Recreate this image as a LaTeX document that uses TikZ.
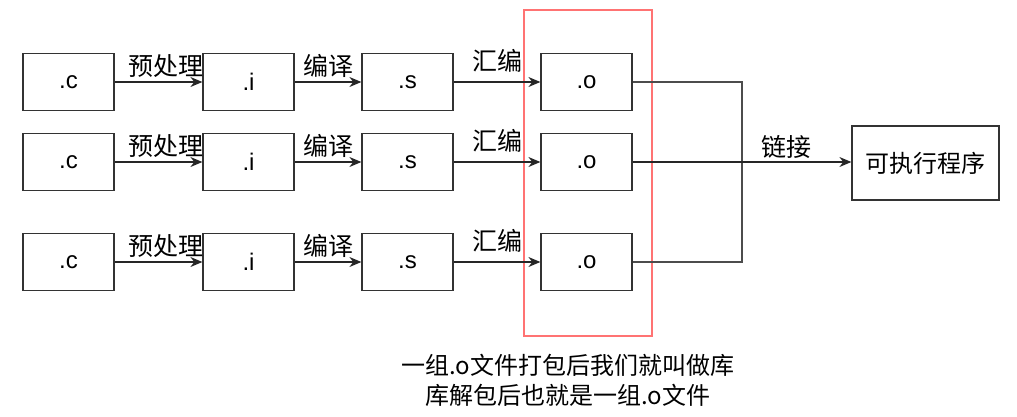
\documentclass[tikz,border=0pt]{standalone}
\usepackage{fontspec}
\setmainfont{Liberation Sans}
\newfontfamily\cjk{Noto Sans CJK SC}
\usepackage{xcolor}
\usetikzlibrary{arrows.meta}

\begin{document}
\begin{tikzpicture}[x=1pt, y=-1pt,
        box/.style={draw=black!80, line width=1.2pt, rectangle, inner sep=0pt,
            minimum width=91pt, minimum height=57pt, font=\fontsize{24}{28}\selectfont},
        lbl/.style={inner sep=0pt, font=\cjk\fontsize{25}{28}\selectfont},
        arr/.style={-{Stealth[length=12pt, width=10pt]}, line width=1.2pt, draw=black!85},
        link/.style={line width=1.2pt, draw=black!70}]
        \useasboundingbox (0,0) rectangle (1017,416);

        % Group of .o files
        \node[draw=red!55, line width=1.2pt, minimum width=128pt, minimum height=326pt, inner sep=0pt] (grp) at (588, 173) {};

        % Sources
        \node[box] (c1) at (68.5, 82) {.c};
        \node[box] (c2) at (68.5, 162) {.c};
        \node[box] (c3) at (68.5, 262) {.c};

        % Preprocessed
        \node[box] (i1) at (248.5, 82) {.i};
        \node[box] (i2) at (248.5, 162) {.i};
        \node[box] (i3) at (248.5, 262) {.i};

        % Assembly
        \node[box] (s1) at (407.5, 82) {.s};
        \node[box] (s2) at (407.5, 162) {.s};
        \node[box] (s3) at (407.5, 262) {.s};

        % Objects
        \node[box] (o1) at (586.5, 82) {.o};
        \node[box] (o2) at (586.5, 162) {.o};
        \node[box] (o3) at (586.5, 262) {.o};

        % Executable
        \node[box, minimum width=147pt, minimum height=74pt, font=\cjk\fontsize{24}{28}\selectfont] (exe) at (925.5, 163) {可执行程序};

        % Step labels
        \node[lbl] (pre1) at (166, 66) {预处理};
        \node[lbl] (pre2) at (166, 146) {预处理};
        \node[lbl] (pre3) at (166, 246) {预处理};
        \node[lbl] (cmp1) at (328, 66) {编译};
        \node[lbl] (cmp2) at (328, 146) {编译};
        \node[lbl] (cmp3) at (328, 246) {编译};
        \node[lbl] (asm1) at (497, 61) {汇编};
        \node[lbl] (asm2) at (497, 141) {汇编};
        \node[lbl] (asm3) at (497, 241) {汇编};
        \node[lbl] (lnk) at (786, 147) {链接};

        % Connections
        \draw[arr] (c1) -- (i1);
        \draw[arr] (c2) -- (i2);
        \draw[arr] (c3) -- (i3);
        \draw[arr] (i1) -- (s1);
        \draw[arr] (i2) -- (s2);
        \draw[arr] (i3) -- (s3);
        \draw[arr] (s1) -- (o1);
        \draw[arr] (s2) -- (o2);
        \draw[arr] (s3) -- (o3);

        % Linking
        \coordinate (j1) at (742, 82);
        \coordinate (j3) at (742, 262);
        \draw[link] (o1.east) -- (j1) -- (j3) -- (o3.east);
        \draw[arr] (o2.east) -- (o2.east -| exe.west);

        % Note
        \node[lbl, align=center, font=\cjk\fontsize{24}{30}\selectfont] (note) at (568, 380) {一组.o文件打包后我们就叫做库\\库解包后也就是一组.o文件};
    \end{tikzpicture}
\end{document}
